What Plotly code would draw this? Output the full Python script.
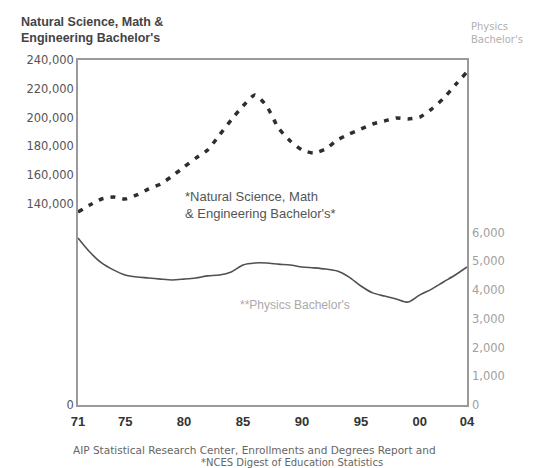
import plotly.graph_objects as go

years = list(range(1971, 2005))
nsme_bachelors = [134260, 139100, 143300, 144700, 143300, 146100, 150300, 153700, 159300, 165600,
                  171800, 177400, 187800, 198300, 208000, 215700, 208000, 192700, 183700, 177400,
                  175300, 178100, 184300, 188500, 192000, 195500, 197600, 199700, 199000, 200300,
                  205900, 213200, 222600, 231700]
physics_bachelors = [5810, 5320, 4940, 4700, 4520, 4450, 4420, 4380, 4350, 4380,
                     4420, 4490, 4520, 4630, 4870, 4940, 4940, 4900, 4870, 4800,
                     4770, 4730, 4660, 4450, 4140, 3900, 3790, 3690, 3580, 3830,
                     4030, 4280, 4520, 4800]

x_tickvals = [1971, 1975, 1980, 1985, 1990, 1995, 2000, 2004]
x_ticktext = ["71", "75", "80", "85", "90", "95", "00", "04"]
left_tickvals = [0, 140000, 160000, 180000, 200000, 220000, 240000]
left_ticktext = ["0", "140,000", "160,000", "180,000", "200,000", "220,000", "240,000"]
right_tickvals = [0, 1000, 2000, 3000, 4000, 5000, 6000]
right_ticktext = ["0", "1,000", "2,000", "3,000", "4,000", "5,000", "6,000"]

FONT = "Liberation Sans, Arial, sans-serif"
WIDE = "DejaVu Sans, Verdana, sans-serif"

fig = go.Figure()
fig.add_trace(go.Scatter(
    x=years, y=nsme_bachelors, mode="lines", yaxis="y",
    line=dict(color="#2e2e2e", width=3.5, dash="5px,7px", shape="spline", smoothing=0.6),
    showlegend=False, hoverinfo="skip"))
fig.add_trace(go.Scatter(
    x=years, y=physics_bachelors, mode="lines", yaxis="y2",
    line=dict(color="#505050", width=1.6, shape="spline", smoothing=0.8),
    showlegend=False, hoverinfo="skip"))

fig.update_layout(
    width=530, height=460,
    margin=dict(l=70, r=71, t=52, b=63),
    paper_bgcolor="white", plot_bgcolor="white",
    font=dict(family=FONT, color="#444"),
    xaxis=dict(range=[1971, 2004], tickvals=x_tickvals, ticktext=x_ticktext,
               showgrid=False, zeroline=False, showline=True, mirror=True,
               linecolor="#9a9a9a", linewidth=1.5, ticks="", ticklabelstandoff=4,
               tickfont=dict(size=13, color="#333", family=FONT, weight="bold")),
    yaxis=dict(range=[0, 240000], tickvals=left_tickvals, ticktext=left_ticktext,
               showgrid=False, zeroline=False, showline=True, mirror=True,
               linecolor="#9a9a9a", linewidth=1.5, ticks="",
               tickfont=dict(size=11.5, color="#555", family=WIDE)),
    yaxis2=dict(range=[0, 12000], tickvals=right_tickvals, ticktext=right_ticktext,
                overlaying="y", side="right", showgrid=False, zeroline=False,
                showline=False, ticks="", ticklabelstandoff=4,
                tickfont=dict(size=11.5, color="#a0a0a0", family=WIDE)),
)

fig.add_annotation(xref="paper", yref="paper", x=-0.152, y=1.135, xanchor="left", yanchor="top",
                   text="Natural Science, Math &<br>Engineering Bachelor's", showarrow=False,
                   align="left", font=dict(size=12.5, color="#444", family=FONT, weight="bold"))
fig.add_annotation(xref="paper", yref="paper", x=1.005, y=1.12, xanchor="left", yanchor="top",
                   text="Physics<br>Bachelor's", showarrow=False,
                   align="left", font=dict(size=10, color="#b0b0b0", family=WIDE))
fig.add_annotation(xref="x", yref="paper", x=1979.9, y=0.58, xanchor="left", yanchor="middle",
                   text="*Natural Science, Math<br>& Engineering Bachelor's*", showarrow=False,
                   align="left", font=dict(size=13, color="#555", family=FONT))
fig.add_annotation(xref="x", yref="paper", x=1984.6, y=0.29, xanchor="left", yanchor="middle",
                   text="**Physics Bachelor's", showarrow=False,
                   align="left", font=dict(size=12, color="#aaa", family=FONT))
fig.add_annotation(xref="paper", yref="paper", x=0.455, y=-0.107, xanchor="center", yanchor="top",
                   text="AIP Statistical Research Center, Enrollments and Degrees Report and",
                   showarrow=False, align="center", font=dict(size=10.5, color="#666", family=WIDE))
fig.add_annotation(xref="paper", yref="paper", x=0.55, y=-0.145, xanchor="center", yanchor="top",
                   text="*NCES Digest of Education Statistics",
                   showarrow=False, align="center", font=dict(size=10, color="#666", family=WIDE))

fig.write_html("out.html")
